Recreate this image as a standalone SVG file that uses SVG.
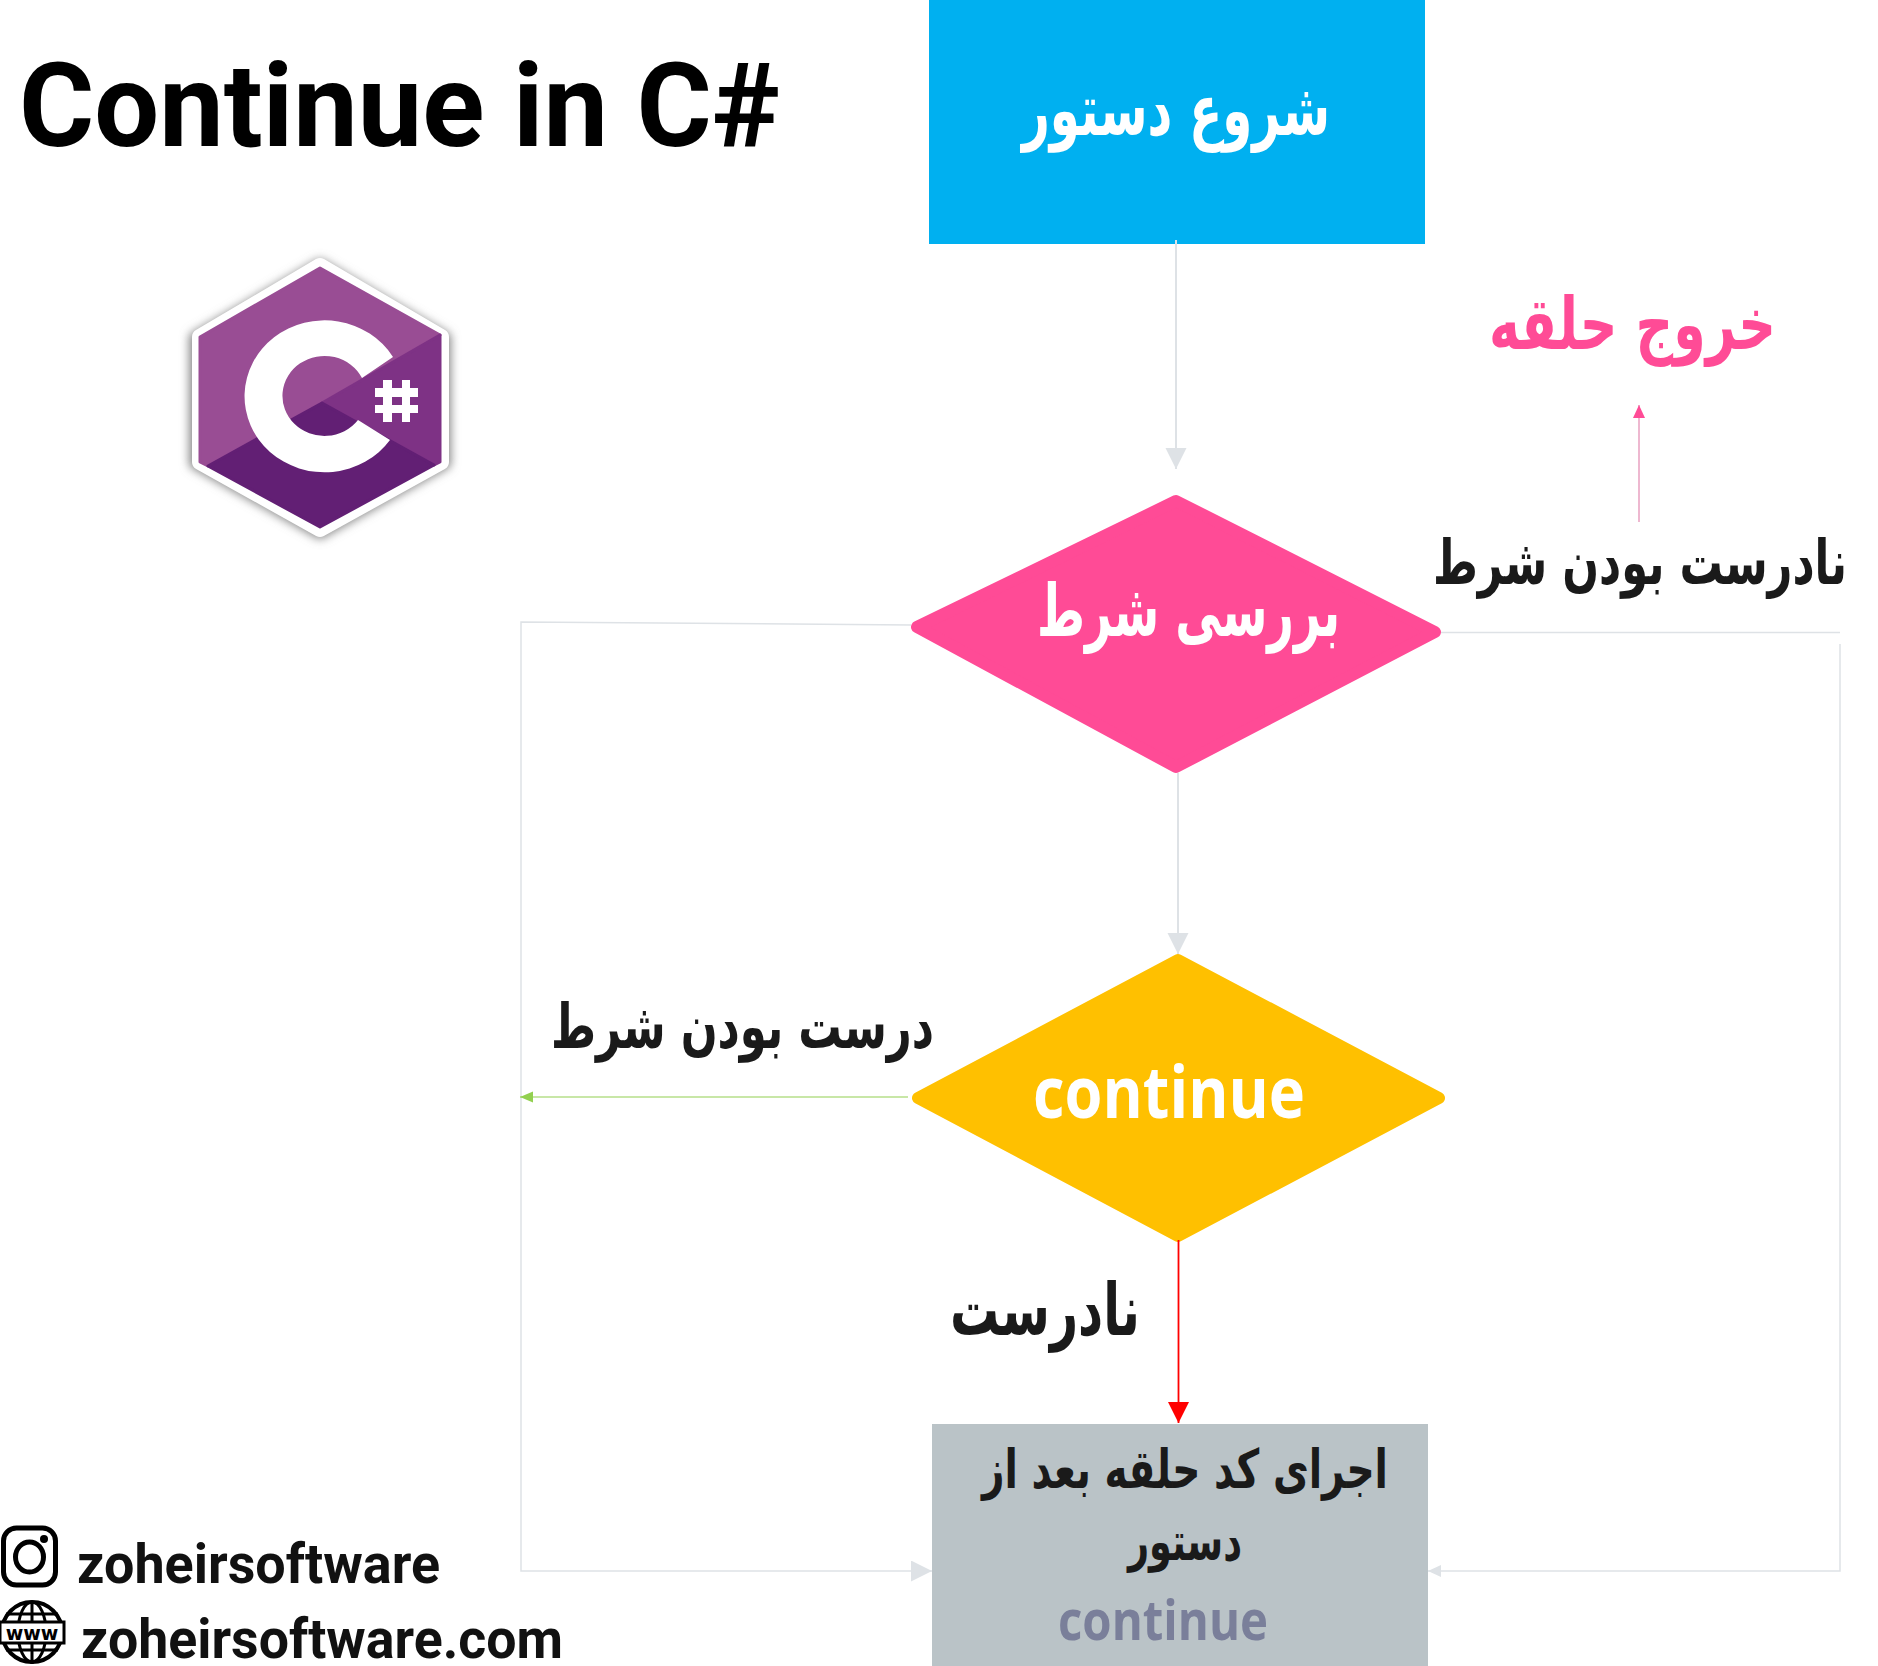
<svg xmlns="http://www.w3.org/2000/svg" width="1878" height="1666" viewBox="0 0 1878 1666">
<defs>
<style>
.fa{font-family:"DejaVu Sans",sans-serif;font-weight:700;text-anchor:middle}
.en{font-family:"Open Sans","Noto Sans",sans-serif;font-weight:700;text-anchor:middle}
.rb{font-family:Roboto,"Liberation Sans",sans-serif;font-weight:700}
.g{fill:none;stroke:#dee2e6;stroke-width:2}
.dark{fill:#1a1a1a}
.white{fill:#fff}
.pink{fill:#ff4b96}
</style>
<filter id="blur" x="-20%" y="-20%" width="140%" height="140%"><feGaussianBlur stdDeviation="5"/></filter>
<marker id="mg" markerUnits="userSpaceOnUse" markerWidth="22" markerHeight="22" refX="21" refY="10.5" orient="auto"><path d="M0,0L21,10.5L0,21Z" fill="#dee2e6"/></marker>
<marker id="mgs" markerUnits="userSpaceOnUse" markerWidth="14" markerHeight="14" refX="13" refY="6" orient="auto"><path d="M0,0L13,6L0,12Z" fill="#dee2e6"/></marker>
<marker id="mr" markerUnits="userSpaceOnUse" markerWidth="22" markerHeight="22" refX="21" refY="10.5" orient="auto"><path d="M0,0L21,10.5L0,21Z" fill="#f00"/></marker>
<marker id="mv" markerUnits="userSpaceOnUse" markerWidth="14" markerHeight="12" refX="13" refY="5.5" orient="auto"><path d="M0,0L13,5.5L0,11Z" fill="#92d050"/></marker>
<marker id="mp" markerUnits="userSpaceOnUse" markerWidth="14" markerHeight="14" refX="13" refY="6" orient="auto"><path d="M0,0L13,6L0,12Z" fill="#ff4b96"/></marker>
</defs>
<rect width="1878" height="1666" fill="#fff"/>
<g id="title"><text class="rb" x="19" y="146" font-size="117" fill="#000" textLength="761" lengthAdjust="spacingAndGlyphs">Continue in C#</text></g>
<g id="logo">
<path d="M320,265L445,338V463L320,533L195,463V338Z" fill="#888" stroke="#888" stroke-width="12" stroke-linejoin="round" filter="url(#blur)"/>
<path d="M320,266L441,337V462L320,529L200,462V337Z" fill="#fff" stroke="#fff" stroke-width="16" stroke-linejoin="round"/>
<path d="M322,403L440,335L320,268L200,337V462L208,466Z" fill="#994d94" stroke="#994d94" stroke-width="3" stroke-linejoin="round"/>
<path d="M322,403L440,335V462L434,465Z" fill="#7e3285" stroke="#7e3285" stroke-width="3" stroke-linejoin="round"/>
<path d="M322,403L208,466L320,527L434,465Z" fill="#621f74" stroke="#621f74" stroke-width="3" stroke-linejoin="round"/>
<path d="M393,357A80,76 0 1 0 390,440L358,420A42,40 0 1 1 362,378Z" fill="#fff"/>
<path d="M383,380h9v8h10v-8h8v8h8v9h-8v8h8v8h-8v9h-8v-9h-10v9h-9v-9h-8v-8h8v-8h-8v-9h8ZM392,397v8h10v-8Z" fill="#fff" fill-rule="evenodd"/>
</g>
<g id="start"><rect x="929" y="0" width="496" height="244" fill="#00b0f0"/><text class="fa white" x="1176" y="135" font-size="72" direction="rtl" textLength="308" lengthAdjust="spacingAndGlyphs">شروع دستور</text></g>
<g id="exit"><text class="fa pink" x="1632.500" y="349" font-size="72" direction="rtl" textLength="287" lengthAdjust="spacingAndGlyphs">خروج حلقه</text></g>
<g id="false-label"><text class="fa dark" x="1640" y="584" font-size="62" direction="rtl" textLength="414" lengthAdjust="spacingAndGlyphs">نادرست بودن شرط</text></g>
<g id="check"><path d="M1176,501L1435,632L1176,767L917,627Z" class="pink" stroke="#ff4b96" stroke-width="12" stroke-linejoin="round"/><text class="fa white" x="1188.500" y="636" font-size="72" direction="rtl" textLength="303" lengthAdjust="spacingAndGlyphs">بررسی شرط</text></g>
<g id="true-label"><text class="fa dark" x="742.500" y="1048" font-size="62" direction="rtl" textLength="383" lengthAdjust="spacingAndGlyphs">درست بودن شرط</text></g>
<g id="continue"><path d="M1178,960L1439,1098L1178,1236L918,1098Z" fill="#ffc000" stroke="#ffc000" stroke-width="12" stroke-linejoin="round"/><text class="en white" x="1169" y="1118" font-size="72" textLength="272" lengthAdjust="spacingAndGlyphs">continue</text></g>
<g id="no-label"><text class="fa dark" x="1045" y="1335" font-size="72" direction="rtl" textLength="190" lengthAdjust="spacingAndGlyphs">نادرست</text></g>
<g id="body"><rect x="932" y="1424" width="496" height="242" fill="#bac3c7"/>
<text class="fa dark" x="1185" y="1488" font-size="54" direction="rtl" textLength="406" lengthAdjust="spacingAndGlyphs">اجرای کد حلقه بعد از</text>
<text class="fa dark" x="1185" y="1560" font-size="54" direction="rtl" textLength="114" lengthAdjust="spacingAndGlyphs">دستور</text>
<text class="en" x="1163" y="1640" font-size="56" fill="#7a7f9a" textLength="210" lengthAdjust="spacingAndGlyphs">continue</text></g>
<g id="instagram"><rect x="3.500" y="1528" width="52" height="57" rx="13" fill="none" stroke="#000" stroke-width="5"/><ellipse cx="29.500" cy="1557" rx="14" ry="15" fill="none" stroke="#000" stroke-width="5"/><circle cx="44" cy="1539" r="4" fill="#000"/><text class="rb" x="77" y="1583" font-size="55" fill="#111" textLength="363" lengthAdjust="spacingAndGlyphs">zoheirsoftware</text></g>
<g id="web"><circle cx="32" cy="1632" r="30" fill="none" stroke="#000" stroke-width="4"/><ellipse cx="32" cy="1632" rx="14" ry="30" fill="none" stroke="#000" stroke-width="3"/><path d="M32,1602v62M6,1614h52M6,1650h52" stroke="#000" stroke-width="3" fill="none"/><rect x="0" y="1622" width="64" height="21" fill="#fff" stroke="#000" stroke-width="3"/><text x="32" y="1640" font-family="'DejaVu Sans',sans-serif" font-size="19" font-weight="700" text-anchor="middle" fill="#000">www</text><text class="rb" x="81" y="1658" font-size="55" fill="#111" textLength="482" lengthAdjust="spacingAndGlyphs">zoheirsoftware.com</text></g>
<g id="connectors">
<path class="g" d="M1176,240V469" marker-end="url(#mg)"/>
<path class="g" d="M1178,773V954" marker-end="url(#mg)"/>
<path class="g" d="M911,625L521,622V1571H932" style="stroke-width:1.5" marker-end="url(#mg)"/>
<path class="g" d="M1441,632.500H1840" style="stroke-width:1.5"/>
<path class="g" d="M1840,644V1571H1428" style="stroke-width:1.500" marker-end="url(#mgs)"/>
<path d="M908,1097H520" fill="none" stroke="#92d050" stroke-width="1.200" marker-end="url(#mv)"/>
<path d="M1178.500,1240V1423" fill="none" stroke="#f00" stroke-width="1.800" marker-end="url(#mr)"/>
<path d="M1639,522V405" fill="none" stroke="#e8a0c0" stroke-width="1.500" marker-end="url(#mp)"/>
</g>
</svg>
